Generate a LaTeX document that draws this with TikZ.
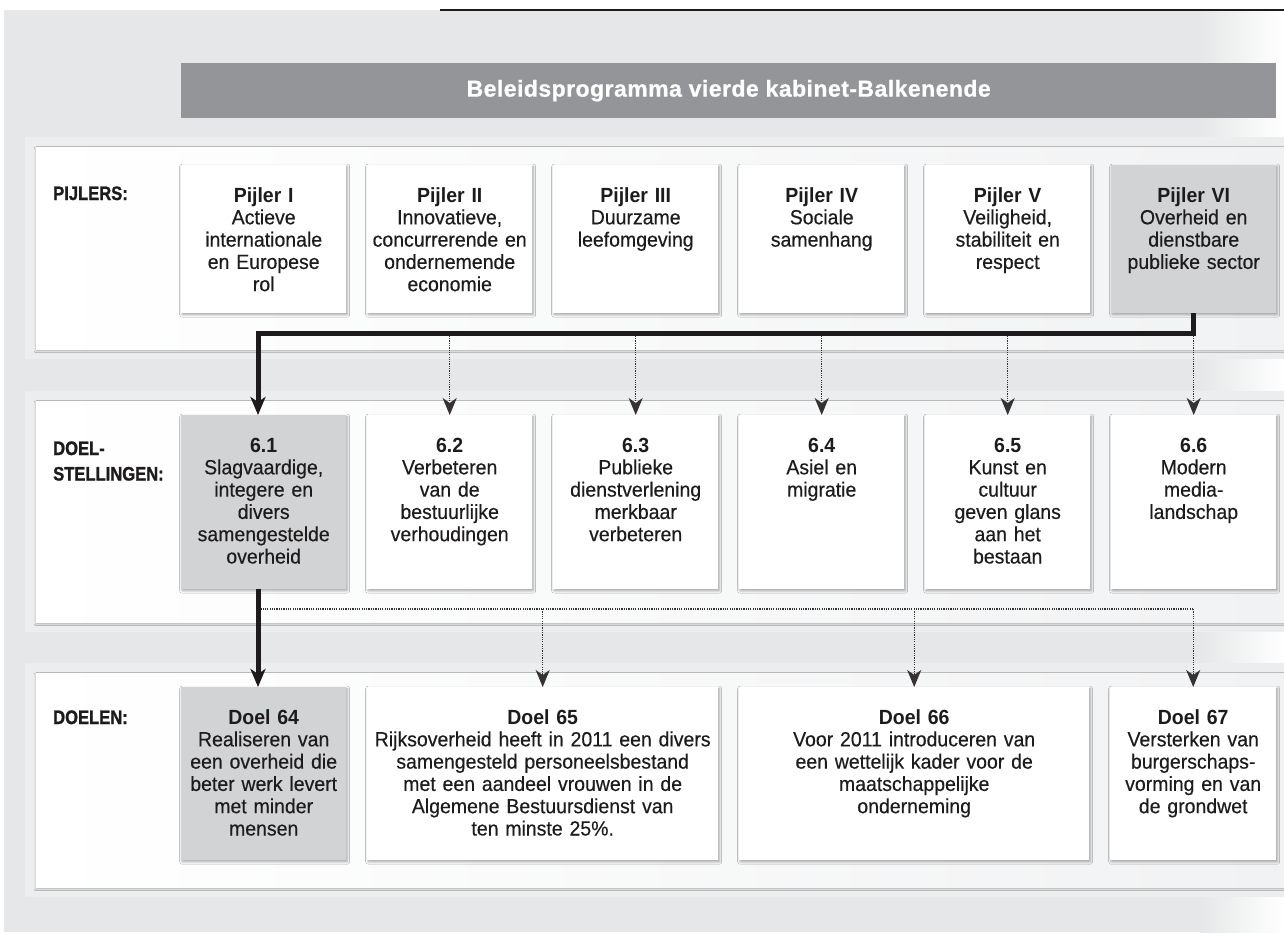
\documentclass[tikz,border=0pt]{standalone}
\usepackage{fontspec}
\setmainfont[FakeStretch=0.95, UprightFeatures={FakeBold=0.35}]{Liberation Sans}
\newfontfamily\labelfont[FakeStretch=0.85, BoldFeatures={FakeBold=1.2}]{Liberation Sans}
\newfontfamily\titlefont[LetterSpace=2, BoldFeatures={FakeBold=0.8}]{Liberation Sans}
\usetikzlibrary{arrows.meta,calc,shadows.blur}
\definecolor{bg}{HTML}{E6E7E8}
\definecolor{band}{HTML}{ECEDEE}
\definecolor{panelr}{HTML}{F1F2F3}
\definecolor{titlegray}{HTML}{939598}
\definecolor{boxgray}{HTML}{D1D3D4}
\definecolor{ink}{HTML}{1E1B1C}
\tikzset{
  panel/.style={draw=none, left color=white, right color=panelr, minimum width=1248pt,
    inner sep=0pt, anchor=north west,
    blur shadow={shadow xshift=0pt, shadow yshift=-1.5pt, shadow blur radius=2pt, shadow opacity=30}},
  box/.style={draw=none, fill=white, minimum width=165pt, inner sep=0pt, anchor=north west,
    blur shadow={shadow xshift=1pt, shadow yshift=-1.5pt, shadow blur radius=2.5pt, shadow opacity=35}},
  graybox/.style={box, fill=boxgray},
  txt/.style={anchor=base, text width=175pt, align=center, inner sep=0pt,
    font=\fontsize{20.5}{22.3}\selectfont, text=ink},
  widetxt/.style={txt, text width=345pt},
  lab/.style={anchor=base west, text width=160pt, align=left, inner sep=0pt,
    font=\labelfont\bfseries\fontsize{19.5}{25.5}\selectfont, text=ink},
  thickarrow/.style={line width=5pt, draw=ink, line join=miter,
    -{Stealth[length=18pt,width=15pt,inset=5pt]}},
  dotarrow/.style={line width=1.4pt, draw=ink!90, dash pattern=on 1.2pt off 1.1pt,
    -{Stealth[length=17pt,width=14pt,inset=5pt]}},
  dotline/.style={line width=1.4pt, draw=ink!90, dash pattern=on 1.2pt off 1.1pt},
}
\begin{document}
\begin{tikzpicture}[x=1pt,y=-1pt]
\useasboundingbox (0,0) rectangle (1284,932);
% background
\fill[bg] (4,10) rectangle (1284,932);
\shade[left color=bg, right color=white] (1200,10) rectangle (1284,932);
\draw[line width=2.3pt, ink] (440,10) -- (1284,10);
% title
\node[fill=titlegray, minimum width=1095pt, minimum height=55pt, inner sep=0pt, anchor=north west,
  text=white, font=\titlefont\bfseries\fontsize{23}{26}\selectfont] (title) at (181,63)
  {Beleidsprogramma vierde kabinet-Balkenende};
% bands and panels
\fill[band] (25,137) rectangle (1284,359);
\fill[band] (25,391) rectangle (1284,632);
\fill[band] (25,663) rectangle (1284,897);
\node[panel, minimum height=202pt] (P1) at (36,147) {};
\node[panel, minimum height=221pt] (P2) at (36,401) {};
\node[panel, minimum height=214pt] (P3) at (36,673) {};
% labels
\node[lab] (l1) at (53,200) {PIJLERS:};
\node[lab] (l2) at (53,455) {DOEL-\\STELLINGEN:};
\node[lab] (l3) at (53,724) {DOELEN:};
% pijlers
\node[box, minimum height=148pt] (p1) at (181,165) {};
\node[box, minimum height=148pt] (p2) at (367,165) {};
\node[box, minimum height=148pt] (p3) at (553,165) {};
\node[box, minimum height=148pt] (p4) at (739,165) {};
\node[box, minimum height=148pt] (p5) at (925,165) {};
\node[graybox, minimum height=148pt] (p6) at (1111,165) {};
\node[txt] (tp1) at ($(p1.north)+(0,37)$) {\textbf{Pijler I}\\Actieve\\internationale\\en Europese\\rol};
\node[txt] (tp2) at ($(p2.north)+(0,37)$) {\textbf{Pijler II}\\Innovatieve,\\concurrerende en\\ondernemende\\economie};
\node[txt] (tp3) at ($(p3.north)+(0,37)$) {\textbf{Pijler III}\\Duurzame\\leefomgeving};
\node[txt] (tp4) at ($(p4.north)+(0,37)$) {\textbf{Pijler IV}\\Sociale\\samenhang};
\node[txt] (tp5) at ($(p5.north)+(0,37)$) {\textbf{Pijler V}\\Veiligheid,\\stabiliteit en\\respect};
\node[txt] (tp6) at ($(p6.north)+(0,37)$) {\textbf{Pijler VI}\\Overheid en\\dienstbare\\publieke sector};
% doelstellingen
\node[graybox, minimum height=174pt] (d1) at (181,415) {};
\node[box, minimum height=174pt] (d2) at (367,415) {};
\node[box, minimum height=174pt] (d3) at (553,415) {};
\node[box, minimum height=174pt] (d4) at (739,415) {};
\node[box, minimum height=174pt] (d5) at (925,415) {};
\node[box, minimum height=174pt] (d6) at (1111,415) {};
\node[txt] (td1) at ($(d1.north)+(0,37)$) {\textbf{6.1}\\Slagvaardige,\\integere en\\divers\\samengestelde\\overheid};
\node[txt] (td2) at ($(d2.north)+(0,37)$) {\textbf{6.2}\\Verbeteren\\van de\\bestuurlijke\\verhoudingen};
\node[txt] (td3) at ($(d3.north)+(0,37)$) {\textbf{6.3}\\Publieke\\dienstverlening\\merkbaar\\verbeteren};
\node[txt] (td4) at ($(d4.north)+(0,37)$) {\textbf{6.4}\\Asiel en\\migratie};
\node[txt] (td5) at ($(d5.north)+(0,37)$) {\textbf{6.5}\\Kunst en\\cultuur\\geven glans\\aan het\\bestaan};
\node[txt] (td6) at ($(d6.north)+(0,37)$) {\textbf{6.6}\\Modern\\media-\\landschap};
% doelen
\node[graybox, minimum height=173pt] (g64) at (181,687) {};
\node[box, minimum height=173pt, minimum width=351pt] (g65) at (367,687) {};
\node[box, minimum height=173pt, minimum width=350pt] (g66) at (739,687) {};
\node[box, minimum height=173pt, minimum width=166pt] (g67) at (1110,687) {};
\node[txt] (tg64) at ($(g64.north)+(0,37)$) {\textbf{Doel 64}\\Realiseren van\\een overheid die\\beter werk levert\\met minder\\mensen};
\node[widetxt] (tg65) at ($(g65.north)+(0,37)$) {\textbf{Doel 65}\\Rijksoverheid heeft in 2011 een divers\\samengesteld personeelsbestand\\met een aandeel vrouwen in de\\Algemene Bestuursdienst van\\ten minste 25\%.};
\node[widetxt] (tg66) at ($(g66.north)+(0,37)$) {\textbf{Doel 66}\\Voor 2011 introduceren van\\een wettelijk kader voor de\\maatschappelijke\\onderneming};
\node[txt] (tg67) at ($(g67.north)+(0,37)$) {\textbf{Doel 67}\\Versterken van\\burgerschaps-\\vorming en van\\de grondwet};
% connectors level 1
\coordinate (j1) at (258,333.5);
\draw[dotarrow] (d2.north |- j1) -- (d2.north);
\draw[dotarrow] (d3.north |- j1) -- (d3.north);
\draw[dotarrow] (d4.north |- j1) -- (d4.north);
\draw[dotarrow] (d5.north |- j1) -- (d5.north);
\draw[dotarrow] (d6.north |- j1) -- (d6.north);
\draw[thickarrow] (p6.south) |- (j1) -- (j1 |- d1.north);
% connectors level 2
\coordinate (j2) at (258,609);
\draw[dotline] (j2) -- (j2 -| g67.north);
\draw[dotarrow] (j2 -| g65.north) -- (g65.north);
\draw[dotarrow] (j2 -| g66.north) -- (g66.north);
\draw[dotarrow] (j2 -| g67.north) -- (g67.north);
\draw[thickarrow] (j1 |- d1.south) -- (j1 |- g64.north);
\end{tikzpicture}
\end{document}
